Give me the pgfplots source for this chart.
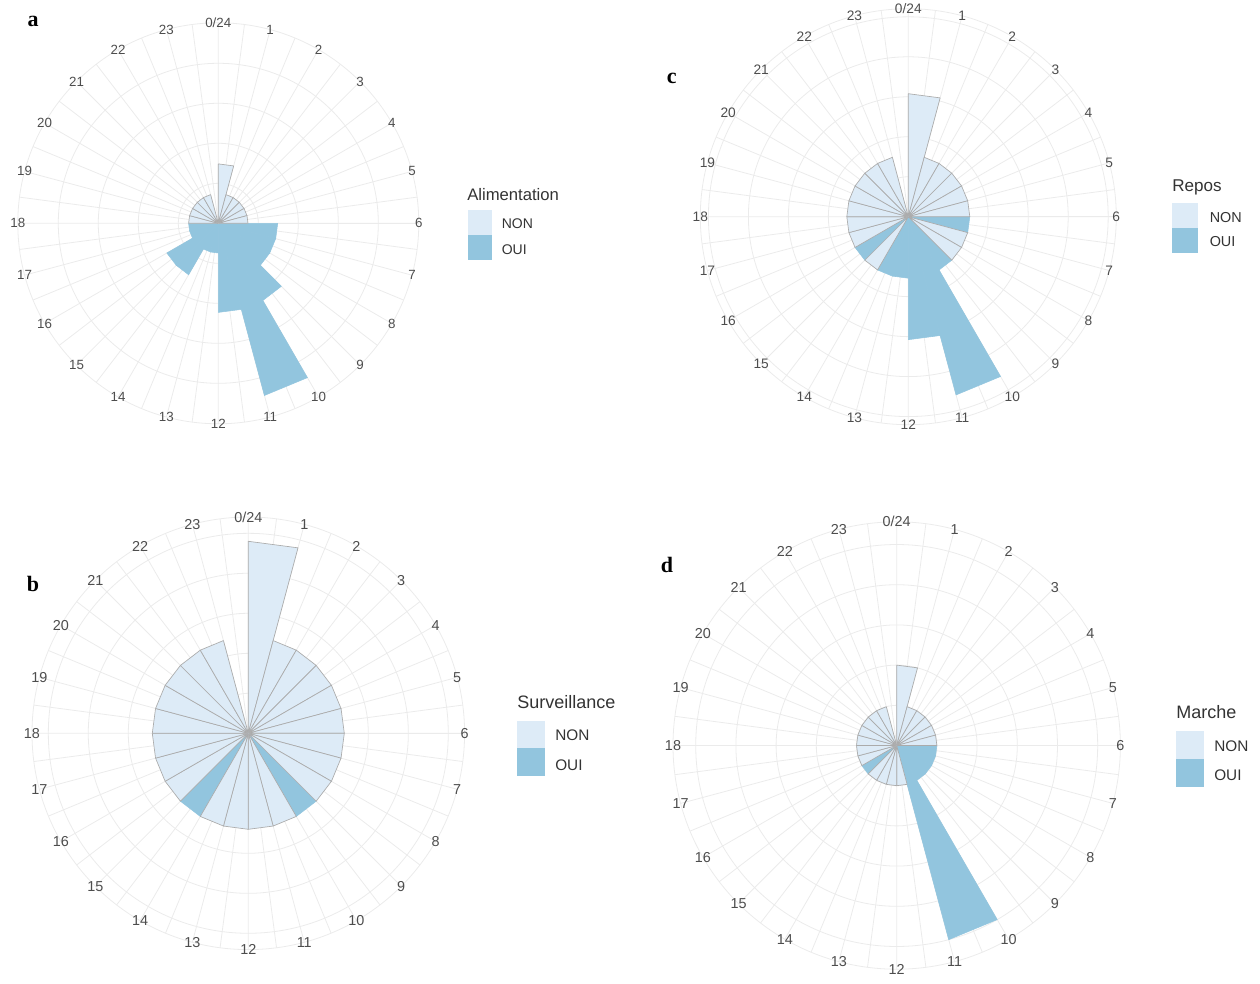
\documentclass[border=0pt]{standalone}
\usepackage{pgfplots}
\pgfplotsset{compat=1.18}
\usepgfplotslibrary{polar}
\usepackage{pgfplotstable}
\usepackage{fontspec}
\setmainfont{Liberation Sans}
\newfontfamily\letterfont{Liberation Serif}

\definecolor{noncol}{HTML}{DDEBF7}
\definecolor{ouicol}{HTML}{92C5DE}
\definecolor{edgecol}{HTML}{ABABAB}
\definecolor{gridcol}{HTML}{EBEBEB}
\definecolor{labcol}{HTML}{4D4D4D}
\definecolor{legcol}{HTML}{333333}

% counts per hour (sector h spans hour h to h+1)
\pgfplotstableread{
h non oui
0 2 0
1 1 0
2 1 0
3 1 0
4 1 0
5 1 0
6 0 2
7 0 2
8 0 2
9 0 3
10 0 6
11 0 3
12 0 1
13 0 1
14 0 2
15 0 2
16 0 1
17 0 1
18 1 0
19 1 0
20 1 0
21 1 0
22 1 0
23 0 0
}\tabA

\pgfplotstableread{
h non oui
0 2 0
1 1 0
2 1 0
3 1 0
4 1 0
5 1 0
6 1 0
7 1 0
8 1 0
9 0 1
10 1 0
11 1 0
12 1 0
13 1 0
14 0 1
15 1 0
16 1 0
17 1 0
18 1 0
19 1 0
20 1 0
21 1 0
22 1 0
23 0 0
}\tabB

\pgfplotstableread{
h non oui
0 2 0
1 1 0
2 1 0
3 1 0
4 1 0
5 1 0
6 0 1
7 1 0
8 1 0
9 0 1
10 0 3
11 0 2
12 0 1
13 0 1
14 1 0
15 0 1
16 1 0
17 1 0
18 1 0
19 1 0
20 1 0
21 1 0
22 1 0
23 0 0
}\tabC

\pgfplotstableread{
h non oui
0 2 0
1 1 0
2 1 0
3 1 0
4 1 0
5 1 0
6 0 1
7 0 1
8 0 1
9 0 1
10 0 5
11 1 0
12 1 0
13 1 0
14 1 0
15 0 1
16 1 0
17 1 0
18 1 0
19 1 0
20 1 0
21 1 0
22 1 0
23 0 0
}\tabD

\pgfplotsset{
  nonsector/.style={fill=noncol, draw=edgecol, line width=0.5pt, line join=round},
  ouisector/.style={fill=ouicol, draw=ouicol, line width=0.4pt},
  roseaxis/.style={
    anchor=center, scale only axis,
    ymin=0,
    xtick={0,15,...,345},
    xticklabels={6,5,4,3,2,1,0/24,23,22,21,20,19,18,17,16,15,14,13,12,11,10,9,8,7},
    minor xtick={7.5,22.5,...,352.5},
    yticklabel=\empty,
    grid=both,
    major grid style={draw=gridcol, line width=0.6pt},
    minor grid style={draw=gridcol, line width=0.6pt},
    axis line style={draw=gridcol, line width=0.6pt},
    major tick length=0pt, minor tick length=0pt,
    xticklabel style={anchor=center, text=labcol, inner sep=0pt},
    clip=false,
  },
}

\newcommand{\rosesectors}[3]{%
  \pgfplotsinvokeforeach{0,...,23}{%
    \pgfplotstablegetelem{##1}{#2}\of{#1}%
    \let\rv\pgfplotsretval
    \pgfmathsetmacro\aA{90-15*##1}%
    \pgfmathsetmacro\aB{75-15*##1}%
    \edef\cmd{\noexpand\addplot[#3] coordinates {(\aA,0) (\aA,\rv) (\aB,\rv) (\aB,0)};}%
    \cmd
  }%
}

\begin{document}
\begin{tikzpicture}[x=0.75pt,y=0.75pt]
\path[use as bounding box] (0,0) rectangle (1260,983);

% ---------- a : Alimentation ----------
\begin{polaraxis}[roseaxis, at={(163.725pt,569.775pt)}, width=300.75pt, height=300.75pt,
  ymax=6.75, ytick={1.347,2.694,4.041,5.387},
  xticklabel style={font=\fontsize{10}{12}\selectfont}]
\rosesectors{\tabA}{oui}{ouisector}
\rosesectors{\tabA}{non}{nonsector}
\end{polaraxis}

% ---------- b : Surveillance ----------
\begin{polaraxis}[roseaxis, at={(186.225pt,187.275pt)}, width=324.45pt, height=324.45pt,
  ymax=2.253, ytick={0.417,0.833,1.25,1.667,2.083},
  xticklabel style={font=\fontsize{10.8}{13}\selectfont}]
\rosesectors{\tabB}{oui}{ouisector}
\rosesectors{\tabB}{non}{nonsector}
\end{polaraxis}

% ---------- c : Repos ----------
\begin{polaraxis}[roseaxis, at={(681.225pt,574.725pt)}, width=312pt, height=312pt,
  ymax=3.382, ytick={0.65,1.3,1.95,2.6,3.25},
  xticklabel style={font=\fontsize{10.3}{12}\selectfont}]
\rosesectors{\tabC}{oui}{ouisector}
\rosesectors{\tabC}{non}{nonsector}
\end{polaraxis}

% ---------- d : Marche ----------
\begin{polaraxis}[roseaxis, at={(672.525pt,178.125pt)}, width=335.55pt, height=335.55pt,
  ymax=5.565, ytick={1,2,3,4,5},
  xticklabel style={font=\fontsize{10.8}{13}\selectfont}]
\rosesectors{\tabD}{oui}{ouisector}
\rosesectors{\tabD}{non}{nonsector}
\end{polaraxis}

% panel letters
\node[font=\letterfont\bfseries\fontsize{16.5}{18}\selectfont, inner sep=0pt] at (33,962) {a};
\node[font=\letterfont\bfseries\fontsize{16.5}{18}\selectfont, inner sep=0pt] at (33,399) {b};
\node[font=\letterfont\bfseries\fontsize{16.5}{18}\selectfont, inner sep=0pt] at (671.7,904.7) {c};
\node[font=\letterfont\bfseries\fontsize{16.5}{18}\selectfont, inner sep=0pt] at (667,418) {d};

% legends
% a
\node[anchor=west, inner sep=0pt, text=legcol, font=\fontsize{12.5}{14}\selectfont] at (467,788) {Alimentation};
\fill[noncol] (467.5,772.5) rectangle (491.5,747.5);
\fill[ouicol] (467.5,747.5) rectangle (491.5,722.5);
\node[anchor=west, inner sep=0pt, text=legcol, font=\fontsize{10.5}{12}\selectfont] at (501.5,759) {NON};
\node[anchor=west, inner sep=0pt, text=legcol, font=\fontsize{10.5}{12}\selectfont] at (501.5,733.5) {OUI};
% c
\node[anchor=west, inner sep=0pt, text=legcol, font=\fontsize{12.8}{14}\selectfont] at (1172,796) {Repos};
\fill[noncol] (1172,780) rectangle (1198,755);
\fill[ouicol] (1172,755) rectangle (1198,730);
\node[anchor=west, inner sep=0pt, text=legcol, font=\fontsize{10.8}{12}\selectfont] at (1209.5,765) {NON};
\node[anchor=west, inner sep=0pt, text=legcol, font=\fontsize{10.8}{12}\selectfont] at (1209.5,741) {OUI};
% b
\node[anchor=west, inner sep=0pt, text=legcol, font=\fontsize{13.5}{15}\selectfont] at (517,281) {Surveillance};
\fill[noncol] (517,262.5) rectangle (545,235);
\fill[ouicol] (517,235) rectangle (545,207);
\node[anchor=west, inner sep=0pt, text=legcol, font=\fontsize{11.5}{13}\selectfont] at (555,248) {NON};
\node[anchor=west, inner sep=0pt, text=legcol, font=\fontsize{11.5}{13}\selectfont] at (555,218) {OUI};
% d
\node[anchor=west, inner sep=0pt, text=legcol, font=\fontsize{13.5}{15}\selectfont] at (1176,271) {Marche};
\fill[noncol] (1176,252.5) rectangle (1204,224.5);
\fill[ouicol] (1176,224.5) rectangle (1204,196);
\node[anchor=west, inner sep=0pt, text=legcol, font=\fontsize{11.5}{13}\selectfont] at (1214,237) {NON};
\node[anchor=west, inner sep=0pt, text=legcol, font=\fontsize{11.5}{13}\selectfont] at (1214,208) {OUI};
\end{tikzpicture}
\end{document}
